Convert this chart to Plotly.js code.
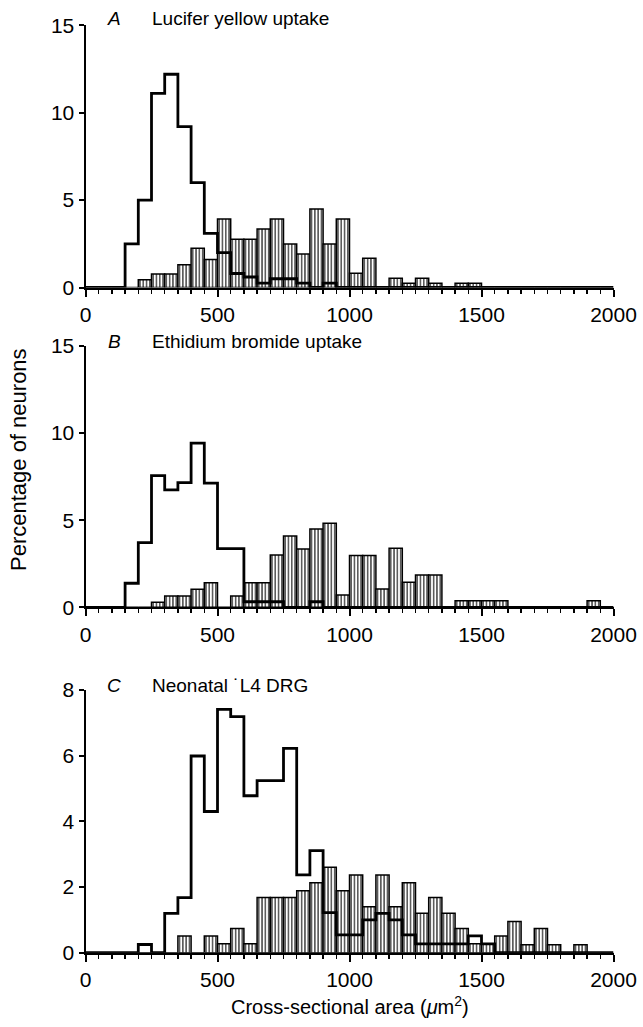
<!DOCTYPE html>
<html>
<head>
<meta charset="utf-8">
<script src="https://cdn.plot.ly/plotly-3.0.1.min.js"></script>
<style>html,body{margin:0;padding:0;background:#fff;}#chart{width:643px;height:1027px;}</style>
</head>
<body>
<div id="chart"></div>
<script>
// Bin starts (µm²), bin width 50
const bins = [0,50,100,150,200,250,300,350,400,450,500,550,600,650,700,750,800,850,900,950,
              1000,1050,1100,1150,1200,1250,1300,1350,1400,1450,1500,1550,1600,1650,1700,1750,1800,1850,1900,1950];
const binWidth = 50;

// Panel A: Lucifer yellow uptake
const aOpen = [0,0,0,2.5,5.0,11.1,12.2,9.2,6.0,3.1,2.0,0.8,0.6,0.25,0.5,0.5,0.25,0,0.25,0,
               0,0,0,0,0,0,0,0,0,0,0,0,0,0,0,0,0,0,0,0];
const aHatched = [0,0,0,0,0.45,0.77,0.77,1.3,2.24,1.6,3.92,2.76,2.76,3.35,3.92,2.49,1.92,4.49,2.49,3.92,
                  0.81,1.67,0,0.53,0.24,0.53,0.24,0,0.24,0.24,0,0,0,0,0,0,0,0,0,0];

// Panel B: Ethidium bromide uptake
const bOpen = [0,0,0,1.38,3.71,7.56,6.74,7.16,9.43,7.13,3.37,3.37,0.32,0.32,0.32,0,0,0.32,0,0,
               0,0,0,0,0,0,0,0,0,0,0,0,0,0,0,0,0,0,0,0];
const bHatched = [0,0,0,0,0,0.29,0.65,0.65,1.03,1.41,0,0.65,1.41,1.41,3.0,4.1,3.35,4.5,4.83,0.71,
                  2.97,2.97,1.05,3.39,1.44,1.86,1.86,0,0.38,0.38,0.38,0.38,0,0,0,0,0,0,0.38,0];

// Panel C: Neonatal L4 DRG
const cOpen = [0,0,0,0,0.25,0,1.2,1.68,5.99,4.3,7.41,7.19,4.78,5.24,5.24,6.22,2.37,3.11,1.22,0.54,
               0.54,1.0,1.2,1.0,0.54,0.27,0.27,0.27,0.27,0.51,0.27,0,0,0,0,0,0,0,0,0];
const cHatched = [0,0,0,0,0,0,0,0.51,0,0.51,0.27,0.74,0.27,1.68,1.68,1.68,1.89,2.13,2.6,1.89,
                  2.37,1.4,2.37,1.4,2.13,1.2,1.68,1.2,0.74,0.27,0.27,0.51,0.95,0.24,0.74,0.24,0,0.24,0,0];

const xTicks = [0,500,1000,1500,2000];
const yTicksAB = [0,5,10,15];
const yTicksC = [0,2,4,6,8];

const titles = [
  {letter:'A', text:'Lucifer yellow uptake'},
  {letter:'B', text:'Ethidium bromide uptake'},
  {letter:'C', text:'Neonatal ˙L4 DRG'}
];
const xTitle = 'Cross-sectional area (<i>μ</i>m<sup>2</sup>)';
const yTitle = 'Percentage of neurons';

const W = 643, H = 1027;
const FONT = 'Liberation Sans, Arial, sans-serif';

function barTrace(vals, xa, ya) {
  return {
    type:'bar', x: bins.map(b => b + binWidth/2), y: vals, width: binWidth,
    xaxis: xa, yaxis: ya, showlegend:false, hoverinfo:'skip',
    marker:{color:'#fff', line:{color:'#000', width:1.5},
            pattern:{shape:'|', fgcolor:'#000', bgcolor:'#fff', size:3.3, solidity:0.32}}
  };
}
function stepTrace(vals, xa, ya) {
  const x = bins.slice(); const y = vals.slice();
  x.push(bins[bins.length-1] + binWidth); y.push(0);
  return {type:'scatter', mode:'lines', x:x, y:y, xaxis:xa, yaxis:ya,
          line:{shape:'hv', color:'#000', width:2.8}, showlegend:false, hoverinfo:'skip'};
}

const data = [
  barTrace(aHatched,'x','y'), stepTrace(aOpen,'x','y'),
  barTrace(bHatched,'x2','y2'), stepTrace(bOpen,'x2','y2'),
  barTrace(cHatched,'x3','y3'), stepTrace(cOpen,'x3','y3')
];

const px2x = p => p / W;
const px2y = p => 1 - p / H;
const xDom = [px2x(85.5), px2x(613.5)];

function xAxis(anchor) {
  return {domain:xDom, range:[0,2000], anchor:anchor, showgrid:false, zeroline:false,
    showline:true, linecolor:'#000', linewidth:2,
    tickmode:'array', tickvals:xTicks, ticktext:xTicks.map(String),
    ticks:'outside', ticklen:7, tickwidth:2, tickcolor:'#000',
    minor:{dtick:50, ticks:'outside', ticklen:4, tickwidth:1.5, tickcolor:'#000', showgrid:false},
    tickfont:{family:FONT, size:21, color:'#000'}, fixedrange:true};
}
function yAxis(anchor, dom, range, ticks) {
  return {domain:dom, range:range, anchor:anchor, showgrid:false, zeroline:false,
    showline:true, linecolor:'#000', linewidth:2,
    tickmode:'array', tickvals:ticks, ticktext:ticks.map(String),
    ticks:'outside', ticklen:5, tickwidth:2, tickcolor:'#000',
    tickfont:{family:FONT, size:21, color:'#000'}, fixedrange:true};
}

const annotations = [];
const titleY = [18.5, 341.5, 685];
titles.forEach((t, i) => {
  annotations.push({xref:'paper', yref:'paper', x:px2x(114), y:px2y(titleY[i]), xanchor:'center', yanchor:'middle',
    text:'<i>'+t.letter+'</i>', showarrow:false, font:{family:FONT, size:19, color:'#000'}});
  annotations.push({xref:'paper', yref:'paper', x:px2x(150), y:px2y(titleY[i]), xanchor:'left', yanchor:'middle',
    text:t.text, showarrow:false, font:{family:FONT, size:19, color:'#000'}});
});
annotations.push({xref:'paper', yref:'paper', x:px2x(350), y:px2y(1005), xanchor:'center', yanchor:'middle',
  text:xTitle, showarrow:false, font:{family:FONT, size:20, color:'#000'}});
annotations.push({xref:'paper', yref:'paper', x:px2x(18), y:px2y(460), xanchor:'center', yanchor:'middle',
  text:yTitle, textangle:-90, showarrow:false, font:{family:FONT, size:22, color:'#000'}});

const layout = {
  width:W, height:H, margin:{l:0,r:0,t:0,b:0},
  paper_bgcolor:'#fff', plot_bgcolor:'#fff', bargap:0, barmode:'overlay',
  xaxis: xAxis('y'), xaxis2: xAxis('y2'), xaxis3: xAxis('y3'),
  yaxis: yAxis('x', [px2y(287.5), px2y(25.3)], [0,15], yTicksAB),
  yaxis2: yAxis('x2', [px2y(607.3), px2y(346)], [0,15], yTicksAB),
  yaxis3: yAxis('x3', [px2y(952.7), px2y(690)], [0,8], yTicksC),
  annotations: annotations
};

Plotly.newPlot('chart', data, layout, {displayModeBar:false, staticPlot:true});
</script>
</body>
</html>
